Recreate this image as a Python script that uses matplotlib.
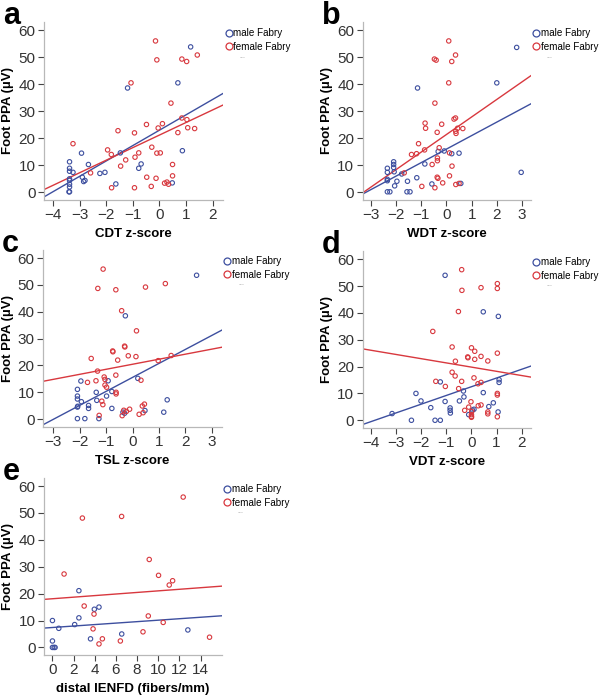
import numpy as np
import matplotlib
matplotlib.use('Agg')
from matplotlib import pyplot as plt
from matplotlib.lines import Line2D

plt.rcParams['font.family'] = ['Liberation Sans', 'DejaVu Sans']

BLUE = '#3d4f9f'
RED = '#d8383e'

# panel a: CDT z-score
a_male_x = [-3.38, -3.38, -3.38, -3.38, -3.38, -3.38, -3.38, -3.38, -3.4, -3.25, -2.93, -2.67,
            -2.9, -2.8, -2.85, -2.24, -2.05, -1.64, -1.47, -1.2, -0.78, -0.69, 0.48, 0.69, 0.86, 1.17]
a_male_y = [11.3, 8.9, 7.8, 5.0, 4.4, 3.0, 2.0, 0.2, 0.2, 7.4, 14.5, 10.3,
            5.6, 4.4, 4.0, 7.0, 7.4, 3.1, 14.6, 38.6, 8.9, 10.5, 3.5, 40.5, 15.4, 53.8]
a_female_x = [-3.25, -2.59, -1.95, -1.81, -1.8, -1.56, -1.46, -1.27, -1.07, -0.94, -0.94, -0.92,
              -0.78, -0.49, -0.48, -0.31, -0.29, -0.15, -0.13, -0.1, -0.1, -0.05, 0.03, 0.11,
              0.19, 0.28, 0.34, 0.43, 0.49, 0.49, 0.69, 0.84, 0.84, 1.02, 1.03, 1.06, 1.32, 1.42]
a_female_y = [18.0, 7.2, 15.7, 14.0, 1.7, 22.8, 9.7, 12.0, 40.5, 22.0, 1.7, 13.0,
              14.6, 25.1, 5.6, 2.2, 16.7, 56.0, 5.2, 49.0, 14.5, 23.8, 14.6, 25.4,
              3.4, 3.8, 3.0, 33.0, 10.3, 6.1, 22.1, 49.3, 27.5, 48.4, 26.9, 23.9, 23.6, 50.8]
a_fit_male = (23.0, 5.69)     # intercept, slope
a_fit_female = (21.2, 4.65)

# panel b: WDT z-score
b_male_x = [-2.35, -2.35, -2.35, -2.35, -2.35, -2.25, -2.1, -2.1, -2.1, -2.08, -2.06, -1.97,
            -1.78, -1.55, -1.57, -1.45, -1.18, -1.15, -0.86, -0.58, -0.33, -0.09, 0.21, 0.5,
            0.57, 2.0, 2.79, 2.97]
b_male_y = [8.9, 7.4, 4.8, 4.3, 0.2, 0.2, 11.3, 10.3, 9.2, 7.6, 2.4, 4.1,
            6.8, 4.1, 0.2, 0.2, 5.4, 38.6, 10.5, 3.1, 15.1, 15.3, 14.3, 14.5,
            3.3, 40.5, 53.6, 7.4]
b_female_x = [-1.68, -1.39, -1.19, -1.11, -0.98, -0.87, -0.85, -0.83, -0.57, -0.48, -0.41, -0.46,
              -0.46, -0.37, -0.36, -0.36, -0.37, -0.34, -0.29, -0.19, -0.15, 0.09, 0.09, 0.12,
              0.12, 0.21, 0.22, 0.3, 0.36, 0.36, 0.37, 0.38, 0.37, 0.44, 0.5, 0.65]
b_female_y = [7.2, 14.0, 14.3, 18.0, 2.2, 15.7, 25.6, 23.7, 10.3, 49.3, 48.9, 33.0,
              1.7, 22.2, 12.7, 11.7, 5.6, 5.2, 16.5, 25.2, 3.5, 56.0, 40.5, 14.6,
              6.1, 48.4, 9.7, 27.1, 27.5, 50.8, 22.6, 21.8, 2.9, 23.7, 3.3, 23.6]
b_fit_male = (16.0, 4.99)
b_fit_female = (21.4, 6.48)

# panel c: TSL z-score
c_male_x = [-2.08, -2.08, -2.08, -2.08, -2.07, -2.08, -1.95, -1.93, -1.8, -1.66, -1.66, -1.37,
            -1.35, -1.27, -0.98, -0.92, -0.78, -0.78, -0.36, -0.3, -0.27, 0.2, 0.47, 1.18,
            1.31, 2.42]
c_male_y = [11.1, 8.6, 7.5, 4.5, 4.8, 0.2, 14.2, 6.5, 0.2, 5.1, 4.0, 10.0,
            7.0, 0.2, 8.6, 14.3, 4.0, 10.3, 2.6, 2.2, 38.5, 15.2, 3.2, 2.6,
            7.2, 53.6]
c_female_x = [-1.7, -1.56, -1.38, -1.32, -1.31, -1.26, -1.16, -1.12, -1.11, -1.07, -1.04, -1.04,
              -0.98, -0.75, -0.74, -0.63, -0.62, -0.62, -0.63, -0.56, -0.41, -0.39, -0.33, -0.3,
              -0.29, -0.23, -0.16, -0.11, 0.13, 0.15, 0.25, 0.32, 0.37, 0.4, 0.45, 0.49,
              0.97, 1.24, 1.46]
c_female_y = [13.7, 22.6, 14.3, 17.9, 48.7, 1.4, 6.7, 5.4, 55.9, 15.7, 14.8, 12.7,
              11.9, 25.4, 25.1, 16.4, 10.0, 9.4, 48.2, 22.0, 40.4, 1.3, 3.3, 27.2,
              26.9, 2.9, 23.6, 3.7, 23.3, 32.9, 1.8, 14.5, 4.9, 2.4, 5.6, 49.2,
              21.8, 50.5, 23.7]
c_fit_male = (15.55, 5.22)
c_fit_female = (20.45, 1.88)

# panel d: VDT z-score
d_male_x = [-3.16, -2.39, -2.21, -2.01, -1.62, -1.45, -1.24, -1.24, -1.05, -1.05, -0.85, -0.85,
            -0.84, -0.48, -0.32, -0.3, -0.11, 0.04, 0.1, 0.47, 0.47, 0.69, 0.87, 1.06,
            1.07, 1.1, 1.1]
d_male_y = [2.5, 0.0, 10.0, 7.2, 4.7, 0.0, 0.0, 14.3, 7.0, 54.0, 4.6, 3.7,
            2.7, 7.2, 10.9, 8.7, 2.1, 3.8, 4.1, 10.3, 40.4, 5.1, 6.5, 3.1,
            38.7, 15.1, 14.1]
d_female_x = [-1.54, -1.42, -1.04, -0.77, -0.77, -0.64, -0.65, -0.52, -0.51, -0.39, -0.39, -0.38,
              -0.27, -0.15, -0.14, -0.11, -0.02, 0.0, 0.0, 0.0, 0.0, 0.01, 0.1, 0.13,
              0.13, 0.26, 0.27, 0.38, 0.38, 0.38, 0.38, 0.65, 0.65, 0.65, 1.03, 1.03,
              1.03, 1.03, 1.03, 1.03]
d_female_y = [33.1, 14.5, 12.6, 27.3, 17.9, 22.0, 16.5, 40.5, 11.8, 14.5, 56.1, 48.4,
              3.7, 23.6, 23.3, 4.9, 6.9, 27.0, 2.1, 1.4, 1.1, 3.3, 15.8, 25.7,
              22.7, 13.6, 5.4, 5.7, 14.1, 49.4, 23.8, 22.1, 3.1, 2.4, 50.9, 49.1,
              25.0, 10.0, 9.4, 1.3]
d_fit_male = (12.5, 3.25)
d_fit_female = (19.8, -1.57)

# panel e: distal IENFD
e_male_x = [0.0, 0.0, 0.0, 0.25, 0.15, 0.6, 2.1, 2.5, 2.5, 3.6, 3.96, 4.4, 6.55, 12.8]
e_male_y = [10.0, 2.4, 0.0, 0.0, 0.0, 7.1, 8.5, 21.1, 11.0, 3.2, 14.2, 15.0, 5.0, 6.5]
e_female_x = [1.1, 2.83, 3.0, 3.84, 3.93, 4.4, 4.72, 6.42, 6.54, 8.56, 9.06, 9.15,
              10.03, 10.47, 11.04, 11.36, 12.36, 14.85]
e_female_y = [27.3, 48.1, 15.4, 6.9, 12.4, 1.3, 3.2, 2.4, 48.7, 5.8, 11.7, 32.7,
              26.8, 9.3, 23.2, 24.8, 55.9, 3.8]
e_fit_male = (7.41, 0.272)
e_fit_female = (18.1, 0.293)

panels = [
    ('a', 'CDT z-score', a_male_x, a_male_y, a_female_x, a_female_y, a_fit_male, a_fit_female,
     (-4.34, 2.4), [-4, -3, -2, -1, 0, 1, 2], [0.0733, 0.714, 0.299, 0.2545]),
    ('b', 'WDT z-score', b_male_x, b_male_y, b_female_x, b_female_y, b_fit_male, b_fit_female,
     (-3.33, 3.36), [-3, -2, -1, 0, 1, 2, 3], [0.6045, 0.714, 0.2805, 0.2545]),
    ('c', 'TSL z-score', c_male_x, c_male_y, c_female_x, c_female_y, c_fit_male, c_fit_female,
     (-3.38, 3.38), [-3, -2, -1, 0, 1, 2, 3], [0.0717, 0.3896, 0.2983, 0.2527]),
    ('d', 'VDT z-score', d_male_x, d_male_y, d_female_x, d_female_y, d_fit_male, d_fit_female,
     (-4.33, 2.37), [-4, -3, -2, -1, 0, 1, 2], [0.6045, 0.388, 0.2805, 0.2527]),
    ('e', 'distal IENFD (fibers/mm)', e_male_x, e_male_y, e_female_x, e_female_y, e_fit_male,
     e_fit_female, (-0.8, 16.0), [0, 2, 4, 6, 8, 10, 12, 14], [0.0733, 0.063, 0.2962, 0.2532]),
]


def main():
    fig = plt.figure(figsize=(6, 6.99), dpi=100)

    for letter, xlabel, mx, my, fx, fy, fit_m, fit_f, xlim, xticks, pos in panels:
        ax = fig.add_axes(pos)
        ax.scatter(mx, my, s=10, facecolors='none', edgecolors=BLUE, linewidths=0.8, zorder=3)
        ax.scatter(fx, fy, s=10, facecolors='none', edgecolors=RED, linewidths=0.8, zorder=3)

        xs = np.array(xlim)
        ax.plot(xs, fit_m[0] + fit_m[1] * xs, color=BLUE, lw=1.0, zorder=2)
        ax.plot(xs, fit_f[0] + fit_f[1] * xs, color=RED, lw=1.0, zorder=2)

        ax.set_xlim(xlim)
        ax.set_ylim(-2.8, 63)
        ax.set_xticks(xticks)
        ax.set_yticks([0, 10, 20, 30, 40, 50, 60])
        for s in ['top', 'right']:
            ax.spines[s].set_visible(False)
        for s in ['left', 'bottom']:
            ax.spines[s].set_color('#b8b8b8')
            ax.spines[s].set_linewidth(0.9)
        ax.tick_params(direction='out', length=4, width=0.8, color='#444444',
                       labelsize=11, labelcolor='#333333', pad=2)
        ax.set_xlabel(xlabel, fontsize=9.5, fontweight='bold', labelpad=4)
        ax.set_ylabel('Foot PPA (µV)', fontsize=9.5, fontweight='bold', labelpad=3)

        handles = [Line2D([], [], marker='o', ls='none', ms=5, mfc='none', mec=BLUE, mew=0.9),
                   Line2D([], [], marker='o', ls='none', ms=5, mfc='none', mec=RED, mew=0.9)]
        ax.legend(handles, ['male Fabry', 'female Fabry'], loc='upper left',
                  bbox_to_anchor=(1.01, 0.965), frameon=False, fontsize=7.1,
                  handlelength=0.7, handletextpad=0.12, borderaxespad=0,
                  labelspacing=0.35, borderpad=0)
        ax.text(1.09, 0.8, '...', transform=ax.transAxes, fontsize=5, color='#999999')

        fig.text(pos[0] - 0.068, pos[1] + pos[3] - 0.003, letter, fontsize=22,
                 fontweight='bold', va='baseline')

    fig.savefig('out.png', dpi=100)


if __name__ == "__main__":
    main()
